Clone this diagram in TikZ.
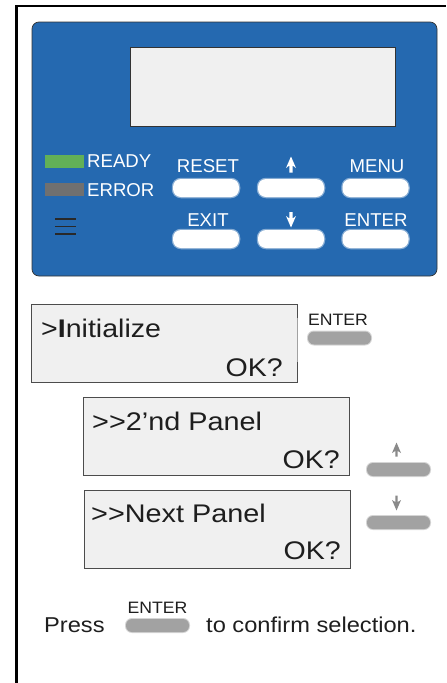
\documentclass[tikz,border=0pt]{standalone}
\usepackage{fontspec}
\setmainfont{Liberation Sans}
\usepackage{graphicx}
\definecolor{panelblue}{HTML}{2569B0}
\definecolor{lcd}{HTML}{F0F0F0}
\definecolor{ink}{HTML}{1E1E1E}
\definecolor{btngray}{HTML}{A2A2A2}
\definecolor{arrgray}{HTML}{8A8A8A}
\definecolor{ledgreen}{HTML}{62B057}
\definecolor{ledgray}{HTML}{707070}
\definecolor{edge}{HTML}{333333}
\begin{document}
\begin{tikzpicture}[x=1pt,y=-1pt,
  wbtn/.style={rectangle,rounded corners=8pt,minimum width=66pt,minimum height=18pt,
    fill=white,draw=white,draw opacity=0.45,line width=2.5pt,inner sep=0pt},
  gbtn/.style={rectangle,rounded corners=6pt,minimum width=63pt,minimum height=13pt,
    fill=btngray,draw=btngray,draw opacity=0.45,line width=2pt,inner sep=0pt},
  plabel/.style={text=white,inner sep=0pt,font=\fontsize{18.6}{20}\selectfont},
  lcdbox/.style={draw=edge,fill=lcd,line width=0.8pt},
  big/.style={text=ink,inner sep=0pt,font=\fontsize{25.5}{28}\selectfont},
  small/.style={text=ink,inner sep=0pt,font=\fontsize{16.5}{18}\selectfont},
  body/.style={text=ink,inner sep=0pt,font=\fontsize{21.5}{24}\selectfont}]
\useasboundingbox (0,0) rectangle (447,683);
% outer frame
\coordinate (fb) at (16.5,683);
\coordinate (fc) at (16.5,6);
\coordinate (fr) at (446,6);
\draw[black,line width=2.6pt] (fb) -- (fc) -- (fr);
% blue panel
\draw[fill=panelblue,draw=edge,line width=0.7pt,rounded corners=7pt] (32,22) rectangle (437,276);
\node[lcdbox,minimum width=265pt,minimum height=79pt,anchor=north west,inner sep=0pt] (lcd) at (129.5,46.5) {};
% LEDs
\fill[ledgreen] (45,155) rectangle (84,168);
\fill[ledgray] (45,183) rectangle (84,196);
\node[plabel,anchor=base west] (ready) at (87,167.5) {READY};
\node[plabel,anchor=base west] (error) at (87,196) {ERROR};
% hamburger
\draw[edge!80!black,line width=1.4pt] (55,219) -- (76,219) (55,226.5) -- (76,226.5) (55,234) -- (76,234);
% labels
\node[plabel,anchor=base] (lreset) at (208,172) {RESET};
\node[plabel,anchor=base] (lmenu) at (377,172) {MENU};
\node[plabel,anchor=base] (lexit) at (208,226) {EXIT};
\node[plabel,anchor=base] (lenter) at (376,226) {ENTER};
% arrow glyphs
\fill[white] (291,156.5) -- (296,168) -- (292.6,165.5) -- (292.6,172.5) -- (289.4,172.5) -- (289.4,165.5) -- (286,168) -- cycle;
\fill[white] (291,227.5) -- (296,216) -- (292.6,218.5) -- (292.6,212) -- (289.4,212) -- (289.4,218.5) -- (286,216) -- cycle;
% buttons
\node[wbtn] (breset) at (206,188) {};
\node[wbtn] (bup) at (291,188) {};
\node[wbtn] (bmenu) at (375.5,188) {};
\node[wbtn] (bexit) at (206,239) {};
\node[wbtn] (bdown) at (291,239) {};
\node[wbtn] (benter) at (375.5,239) {};
% lower panels
\node[lcdbox,draw=black!70,minimum width=266pt,minimum height=78pt,anchor=north west,inner sep=0pt] (p1) at (31,304) {};
\node[big,anchor=base west] (t1) at (41,337) {\scalebox{1.12}[1]{>\textbf{I}nitialize}};
\node[big,anchor=base east] (o1) at (283,376) {\scalebox{1.12}[1]{OK?}};
\draw[btngray,line width=1.3pt] (297.8,318) -- (297.8,362);
\node[lcdbox,draw=black!70,minimum width=266pt,minimum height=78pt,anchor=north west,inner sep=0pt] (p2) at (83,397) {};
\node[big,anchor=base west] (t2) at (92,430) {\scalebox{1.13}[1]{>{}>2’nd Panel}};
\node[big,anchor=base east] (o2) at (340,468) {\scalebox{1.12}[1]{OK?}};
\node[lcdbox,draw=black!70,minimum width=266pt,minimum height=78pt,anchor=north west,inner sep=0pt] (p3) at (84,490) {};
\node[big,anchor=base west] (t3) at (91,522) {\scalebox{1.13}[1]{>{}>Next Panel}};
\node[big,anchor=base east] (o3) at (341,559) {\scalebox{1.12}[1]{OK?}};
% side keys
\node[small,anchor=base] (se) at (338,325) {\scalebox{1.07}[1]{ENTER}};
\node[gbtn] (sbe) at (339.5,338) {};
\fill[arrgray] (396.5,442.5) -- (401,453) -- (397.7,451) -- (397.7,456.5) -- (395.3,456.5) -- (395.3,451) -- (392,453) -- cycle;
\node[gbtn] (sbu) at (398.5,469.5) {};
\fill[arrgray] (396.5,510.5) -- (401,500) -- (397.7,502) -- (397.7,495.5) -- (395.3,495.5) -- (395.3,502) -- (392,500) -- cycle;
\node[gbtn] (sbd) at (398.5,522.5) {};
% bottom line
\node[body,anchor=base west] (press) at (44,632) {\scalebox{1.1}[1]{Press}};
\node[small,anchor=base] (be) at (157.5,613) {\scalebox{1.07}[1]{ENTER}};
\node[gbtn] (bb) at (157.5,625.5) {};
\node[body,anchor=base west] (conf) at (206,632) {\scalebox{1.1}[1]{to confirm selection.}};
\end{tikzpicture}
\end{document}
